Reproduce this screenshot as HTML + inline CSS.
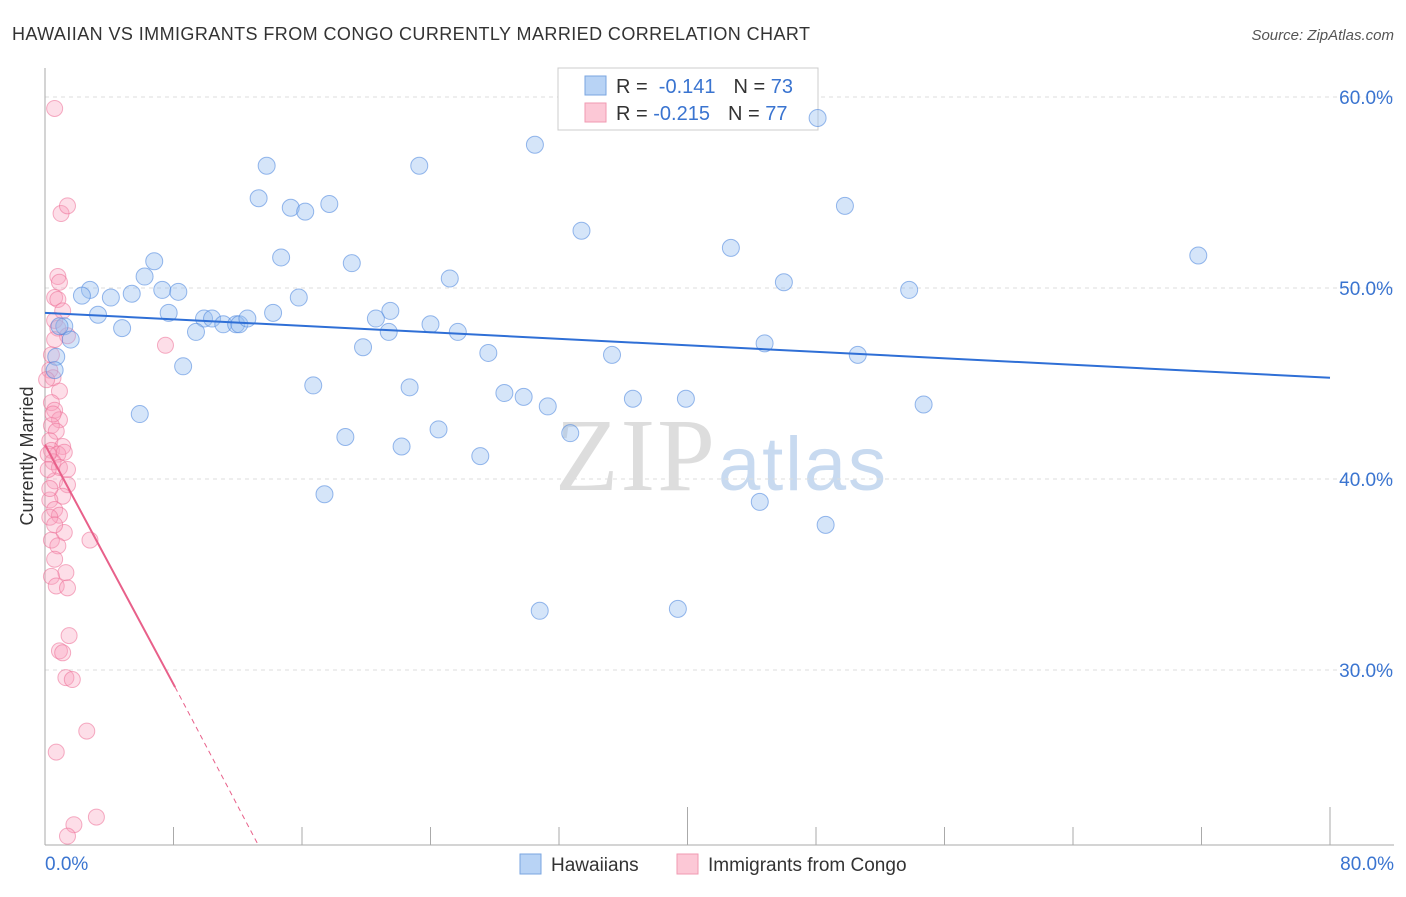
<!DOCTYPE html>
<html><head><meta charset="utf-8"><style>
body{margin:0;background:#fff;font-family:"Liberation Sans",sans-serif}
</style></head><body>
<svg id="chart" width="1406" height="892" xmlns="http://www.w3.org/2000/svg">
<text x="12" y="40" font-size="18" fill="#333" textLength="798">HAWAIIAN VS IMMIGRANTS FROM CONGO CURRENTLY MARRIED CORRELATION CHART</text>
<text x="1394" y="40" font-size="15" font-style="italic" fill="#555" text-anchor="end">Source: ZipAtlas.com</text>
<text x="555" y="490" font-size="104" font-family="Liberation Serif,serif" fill="#ddd" textLength="160">ZIP</text>
<text x="718" y="490" font-size="76" fill="#c8daf0" textLength="168">atlas</text>
<text transform="translate(33,456) rotate(-90)" font-size="18" fill="#333" text-anchor="middle">Currently Married</text>
<g id="grid"></g>
<g>
<rect x="558" y="68" width="260" height="62" fill="#fff" stroke="#ccc"/>
<rect x="585" y="76" width="21" height="19" fill="#b8d3f5" stroke="#7aa6e0"/>
<rect x="585" y="103" width="21" height="19" fill="#fcc8d6" stroke="#f09ab2"/>
<text x="616" y="93" font-size="20" fill="#333">R = <tspan fill="#3a74d0">&#160;-0.141</tspan><tspan dx="18">N = </tspan><tspan fill="#3a74d0">73</tspan></text>
<text x="616" y="120" font-size="20" fill="#333">R = <tspan fill="#3a74d0">-0.215</tspan><tspan dx="18">N = </tspan><tspan fill="#3a74d0">77</tspan></text>
</g>
<g id="pts"></g><g id="lines"></g>
<g>
<rect x="520" y="854" width="21" height="20" fill="#b8d3f5" stroke="#7aa6e0"/>
<text x="551" y="871" font-size="19" fill="#333">Hawaiians</text>
<rect x="677" y="854" width="21" height="20" fill="#fcc8d6" stroke="#f09ab2"/>
<text x="708" y="871" font-size="19" fill="#333">Immigrants from Congo</text>
</g>
</svg>
<script>
const xTicks=[0,8,16,24,32,40,48,56,64,72,80];
const yTicks=[30,40,50,60];
const hawX=[48.1,30.5,13.8,23.3,13.3,15.3,16.2,17.7,49.8,33.4,42.7,14.7,19.1,71.8,6.8,6.2,25.2,2.8,2.3,7.3,8.3,4.1,5.4,46.0,53.8,15.8,21.5,3.3,7.7,14.2,20.6,9.9,10.4,11.1,11.9,12.1,12.6,24.0,21.4,25.7,4.8,1.2,9.4,1.6,19.8,44.8,27.6,35.3,50.6,0.7,8.6,16.7,22.7,28.6,29.8,36.6,39.9,31.3,54.7,5.9,18.7,24.5,32.7,22.2,27.1,17.4,44.5,48.6,30.8,39.4,0.6,0.9];
const hawY=[58.9,57.5,56.4,56.4,54.7,54.2,54.0,54.4,54.3,53.0,52.1,51.6,51.3,51.7,51.4,50.6,50.5,49.9,49.6,49.9,49.8,49.5,49.7,50.3,49.9,49.5,48.8,48.6,48.7,48.7,48.4,48.4,48.4,48.1,48.1,48.1,48.4,48.1,47.7,47.7,47.9,48.0,47.7,47.3,46.9,47.1,46.6,46.5,46.5,46.4,45.9,44.9,44.8,44.5,44.3,44.2,44.2,43.8,43.9,43.4,42.2,42.6,42.4,41.7,41.2,39.2,38.8,37.6,33.1,33.2,45.7,48.0];
const conX=[0.6,1.0,1.4,0.8,0.9,0.6,0.8,1.1,0.6,0.8,1.4,7.5,0.6,0.4,0.3,0.5,0.9,0.4,0.6,0.9,0.4,0.7,0.3,1.1,0.4,0.8,1.2,0.5,0.9,1.4,0.6,1.4,1.1,0.3,0.6,0.9,0.3,1.2,0.4,0.8,2.8,0.6,1.3,0.4,0.7,1.4,1.5,0.9,1.1,1.3,1.7,2.6,0.7,1.8,3.2,1.4,0.2,0.2,0.3,0.6,0.1,0.5];
const conY=[59.4,53.9,54.3,50.6,50.3,49.5,49.4,48.8,48.3,47.9,47.5,47.0,47.3,46.5,45.7,45.3,44.6,44.0,43.6,43.1,42.8,42.5,42.0,41.7,41.5,41.3,41.4,40.9,40.6,40.5,39.9,39.7,39.1,38.9,38.4,38.1,38.0,37.2,36.8,36.5,36.8,35.8,35.1,34.9,34.4,34.3,31.8,31.0,30.9,29.6,29.5,26.8,25.7,21.9,22.3,21.3,41.3,40.5,39.5,37.6,45.2,43.4];
const hawTrend=[48.7,45.3];
const conTrend=[41.8,29.1,20.8];
const conTrendX=[0,8.1,13.3];
const NS="http://www.w3.org/2000/svg";
const X=v=>45+v*(1285/80), Y=v=>97+(60-v)*19.1;
function mk(p,t,a){const e=document.createElementNS(NS,t);for(const k in a)e.setAttribute(k,a[k]);p.appendChild(e);return e;}
const g=document.getElementById('grid');
yTicks.forEach(t=>{
 const l=mk(g,'line',{x1:45,x2:1394,y1:Y(t),y2:Y(t),stroke:'#ddd','stroke-dasharray':'4,4'});
 
 
 const tx=mk(g,'text',{x:1393,y:Y(t)+7,'font-size':19,fill:'#3a74d0','text-anchor':'end'});tx.textContent=t.toFixed(1)+'%';
 
 
});
mk(g,'line',{x1:45,x2:45,y1:68,y2:845,stroke:'#aaa'});
mk(g,'line',{x1:45,x2:1394,y1:845,y2:845,stroke:'#aaa'});
xTicks.forEach(t=>{
 const l=mk(g,'line',{x1:X(t),x2:X(t),y1:(t%40==0&&t>0)?807:827,y2:845,stroke:'#aaa'});
 
 
});
const xl0=mk(g,'text',{x:45,y:870,'font-size':19,fill:'#3a74d0'});xl0.textContent='0.0%';


const xl1=mk(g,'text',{x:1394,y:870,'font-size':19,fill:'#3a74d0','text-anchor':'end'});xl1.textContent='80.0%';


const pg=document.getElementById('pts');
conX.forEach((v,i)=>{
 const c=mk(pg,'circle',{cx:X(v),cy:Y(conY[i]),r:8,fill:'rgba(248,160,188,0.35)',stroke:'rgba(236,110,150,0.55)'});
 
 
});
hawX.forEach((v,i)=>{
 const c=mk(pg,'circle',{cx:X(v),cy:Y(hawY[i]),r:8.5,fill:'rgba(150,190,240,0.4)',stroke:'rgba(70,130,220,0.55)'});
 
 
});
const lg=document.getElementById('lines');
const hl=mk(lg,'line',{x1:X(0),y1:Y(hawTrend[0]),x2:X(80),y2:Y(hawTrend[1]),stroke:'#2f6fd6','stroke-width':2});


const cl=mk(lg,'line',{x1:X(conTrendX[0]),y1:Y(conTrend[0]),x2:X(conTrendX[1]),y2:Y(conTrend[1]),stroke:'#e8608a','stroke-width':2});


const cd=mk(lg,'line',{x1:X(conTrendX[1]),y1:Y(conTrend[1]),x2:X(conTrendX[2]),y2:Y(conTrend[2]),stroke:'#e8608a','stroke-width':1,'stroke-dasharray':'5,4'});


</script>
</body></html>
